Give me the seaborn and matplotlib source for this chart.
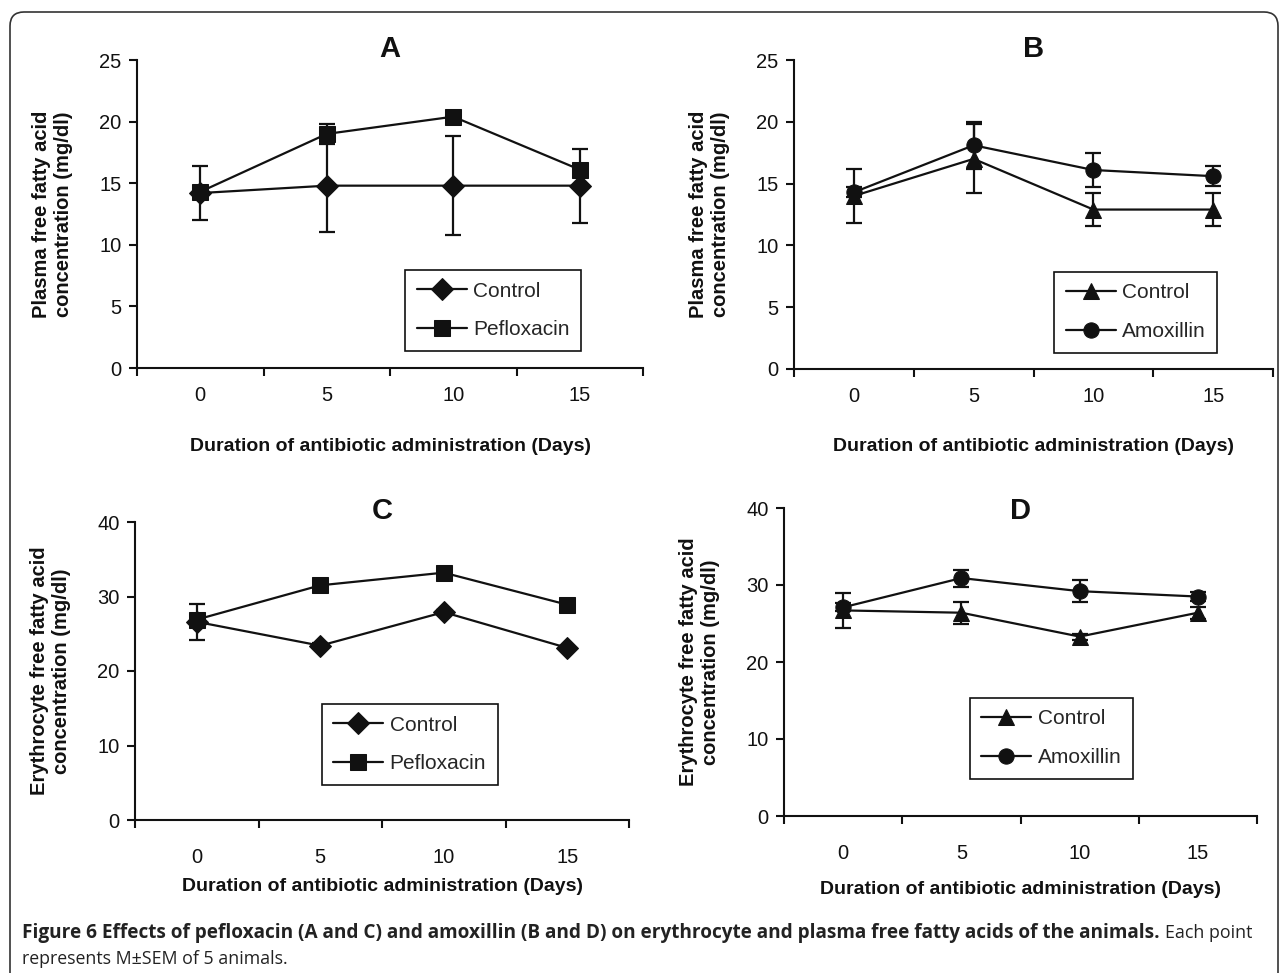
import pandas as pd
import seaborn as sns
import matplotlib
matplotlib.use("Agg")
import matplotlib.pyplot as plt
from matplotlib.patches import FancyBboxPatch
from matplotlib.transforms import IdentityTransform

days = ["0", "5", "10", "15"]

# panel A : plasma, pefloxacin
a_control = [14.2, 14.8, 14.8, 14.8]
a_control_err = [2.2, 3.8, 4.0, 3.0]
a_treat = [14.3, 19.0, 20.4, 16.1]
a_treat_err = [0.4, 0.8, 0.3, 0.4]

# panel B : plasma, amoxillin
b_control = [14.0, 17.0, 12.9, 12.9]
b_control_err = [2.2, 2.8, 1.3, 1.3]
b_treat = [14.3, 18.1, 16.1, 15.6]
b_treat_err = [0.4, 1.9, 1.4, 0.8]

# panel C : erythrocyte, pefloxacin
c_control = [26.6, 23.4, 27.9, 23.1]
c_control_err = [2.4, 0.3, 0.3, 0.3]
c_treat = [26.9, 31.5, 33.2, 28.9]
c_treat_err = [0.5, 0.7, 0.4, 0.4]

# panel D : erythrocyte, amoxillin
d_control = [26.7, 26.4, 23.3, 26.4]
d_control_err = [2.3, 1.4, 0.4, 0.8]
d_treat = [27.1, 30.9, 29.2, 28.5]
d_treat_err = [0.5, 1.1, 1.4, 0.6]

W, H = 1281, 973
sns.set_theme(style="white")
plt.rcParams["font.family"] = ["Liberation Sans", "DejaVu Sans"]

fig = plt.figure(figsize=(W / 100, H / 100), dpi=100)


def box(left, right, top, bottom):
    return [left / W, 1 - bottom / H, (right - left) / W, (bottom - top) / H]


def panel(rect, ctrl, ctrl_err, trt, trt_err, trt_name, marks, ylim, yticks,
          title, ylabel, leg_xy, title_pad, tick_pad, xlab_pad):
    ax = fig.add_axes(rect)
    pos = list(range(len(days)))
    df = pd.DataFrame({"pos": pos * 2, "value": ctrl + trt,
                       "group": ["Control"] * 4 + [trt_name] * 4})
    order = ["Control", trt_name]
    sns.lineplot(data=df, x="pos", y="value", hue="group", style="group",
                 hue_order=order, style_order=order,
                 markers={"Control": marks[0], trt_name: marks[1]},
                 dashes=False, palette={"Control": "#111111", trt_name: "#111111"},
                 markersize=11, linewidth=1.6, markeredgecolor="#111111",
                 legend=False, ax=ax, zorder=3)
    handles = list(ax.lines[:2])
    for y, e in ((ctrl, ctrl_err), (trt, trt_err)):
        ax.errorbar(pos, y, yerr=e, fmt="none", ecolor="#111111",
                    elinewidth=1.6, capsize=6, capthick=1.6, zorder=2)
    ax.set_xlim(-0.5, 3.5)
    ax.set_ylim(*ylim)
    ax.set_yticks(yticks)
    ax.set_xticks(pos)
    ax.set_xticklabels(days)
    ax.set_xticks([p - 0.5 for p in pos] + [3.5], minor=True)
    ax.tick_params(axis="x", which="major", length=0, pad=tick_pad,
                   labelsize=14.5, colors="#111111")
    ax.tick_params(axis="x", which="minor", bottom=True, length=6, width=1.5,
                   direction="out", color="#111111")
    ax.tick_params(axis="y", left=True, length=6, width=1.5, direction="out",
                   pad=5, labelsize=14.5, colors="#111111")
    sns.despine(ax=ax)
    for s in ("left", "bottom"):
        ax.spines[s].set_color("#111111")
        ax.spines[s].set_linewidth(1.5)
    ax.set_xlabel("Duration of antibiotic administration (Days)",
                  fontsize=14, fontweight="bold", labelpad=xlab_pad,
                  color="#111111")
    ax.set_ylabel(ylabel, fontsize=14.5, fontweight="bold", labelpad=19,
                  color="#111111", linespacing=1.2)
    ax.set_title(title, fontsize=21, fontweight="bold", pad=title_pad,
                 color="#111111")
    leg = ax.legend(handles, order, loc="upper left", bbox_to_anchor=leg_xy,
                    borderaxespad=0, fancybox=False, framealpha=1,
                    edgecolor="#111111", fontsize=15, handlelength=2.4,
                    handletextpad=0.3, borderpad=0.55, labelspacing=0.95)
    leg.get_frame().set_linewidth(1.2)
    return ax


plasma = "Plasma free fatty acid\nconcentration (mg/dl)"
ery = "Erythrocyte free fatty acid\nconcentration (mg/dl)"

panel(box(137, 643, 60, 368), a_control, a_control_err, a_treat, a_treat_err,
      "Pefloxacin", ("D", "s"), (0, 25), [0, 5, 10, 15, 20, 25], "A", plasma,
      (0.53, 0.318), 2, 13, 24)
panel(box(794, 1273, 60, 369), b_control, b_control_err, b_treat, b_treat_err,
      "Amoxillin", ("^", "o"), (0, 25), [0, 5, 10, 15, 20, 25], "B", plasma,
      (0.543, 0.314), 2, 13, 23)
panel(box(135, 629, 522, 820), c_control, c_control_err, c_treat, c_treat_err,
      "Pefloxacin", ("D", "s"), (0, 40), [0, 10, 20, 30, 40], "C", ery,
      (0.3785, 0.389), 2, 20, 8)
panel(box(784, 1257, 508, 816), d_control, d_control_err, d_treat, d_treat_err,
      "Amoxillin", ("^", "o"), (0, 40), [0, 10, 20, 30, 40], "D", ery,
      (0.393, 0.383), -8, 20, 13)

# rounded frame around the whole figure
frame = FancyBboxPatch((10, -40), 1268, H - 12 + 40,
                       boxstyle="round,pad=0,rounding_size=14",
                       transform=IdentityTransform(), fill=False,
                       edgecolor="#333333", linewidth=1.2)
fig.patches.append(frame)

# caption
cap_font = ["Open Sans", "DejaVu Sans"]
t1 = fig.text(22 / W, 1 - 933 / H,
              "Figure 6 Effects of pefloxacin (A and C) and amoxillin (B and D) "
              "on erythrocyte and plasma free fatty acids of the animals.",
              family=cap_font, fontweight="bold", fontsize=13.7, va="center",
              color="#222222")
fig.canvas.draw()
ext = t1.get_window_extent(fig.canvas.get_renderer())
fig.text(ext.x1 / W + 5 / W, 1 - 933 / H, "Each point", family=cap_font,
         fontsize=12.8, va="center", color="#222222")
fig.text(22 / W, 1 - 959 / H, "represents M\u00b1SEM of 5 animals.",
         family=cap_font, fontsize=12.8, va="center", color="#222222")

fig.savefig("out.png", dpi=100)
